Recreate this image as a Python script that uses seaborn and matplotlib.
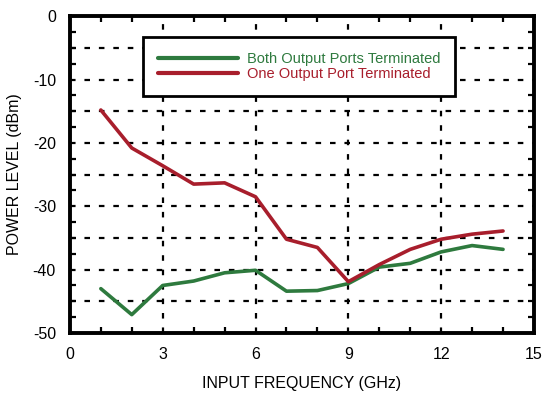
import numpy as np
import pandas as pd
import matplotlib
matplotlib.use("Agg")
import matplotlib.pyplot as plt
import seaborn as sns
from matplotlib.ticker import MultipleLocator

freq = [1, 2, 3, 4, 5, 6, 7, 8, 9, 10, 11, 12, 13, 14]
both_terminated = [-43.0, -47.1, -42.5, -41.8, -40.5, -40.1, -43.4, -43.3, -42.2, -39.6, -39.0, -37.2, -36.2, -36.8]
one_terminated = [-14.8, -20.8, -23.6, -26.5, -26.3, -28.5, -35.2, -36.5, -41.9, -39.2, -36.8, -35.2, -34.4, -33.9]
series_names = ["Both Output Ports Terminated", "One Output Port Terminated"]
colors = ["#2e7a3e", "#a81e2c"]

sns.set_theme(style="white")
plt.rcParams['font.family'] = ['Liberation Sans', 'DejaVu Sans']
plt.rcParams['axes.unicode_minus'] = False

df = pd.DataFrame({
    "freq": freq * 2,
    "level": both_terminated + one_terminated,
    "series": [series_names[0]] * len(freq) + [series_names[1]] * len(freq),
})

fig = plt.figure(figsize=(5.46, 3.93), dpi=100)
ax = fig.add_axes([0.128, 0.1527, 0.850, 0.806])

sns.lineplot(data=df, x="freq", y="level", hue="series", palette=colors,
             linewidth=2.6, ax=ax, legend=True)

ax.set_xlim(0, 15)
ax.set_ylim(-50, 0)
ax.xaxis.set_major_locator(MultipleLocator(3))
ax.xaxis.set_minor_locator(MultipleLocator(1))
ax.yaxis.set_major_locator(MultipleLocator(10))
ax.yaxis.set_minor_locator(MultipleLocator(2.5))

# dashed grid
for xv in [3, 6, 9, 12]:
    ax.axvline(xv, color="black", linestyle=(0, (2.5, 4)), linewidth=1.6, zorder=0)
for yv in [-5, -10, -15, -20, -25, -30, -35, -40, -45]:
    ax.axhline(yv, color="black", linestyle=(0, (2.5, 4)), linewidth=1.6, zorder=0)

ax.tick_params(axis="both", which="both", direction="in", top=True, right=True,
               bottom=True, left=True, color="black")
ax.tick_params(axis="both", which="major", length=0, labelsize=11.5, pad=10, labelcolor="black")
ax.tick_params(axis="both", which="minor", length=4, width=1.6)

for s in ax.spines.values():
    s.set_visible(True)
    s.set_color("black")
    s.set_linewidth(2.8)

ax.set_xlabel("INPUT FREQUENCY (GHz)", fontsize=11.5, color="black", labelpad=10)
ax.set_ylabel("POWER LEVEL (dBm)", fontsize=11.5, color="black", labelpad=8)

leg = ax.legend(loc="upper left", bbox_to_anchor=(0.142, 0.957), frameon=True,
                fontsize=10.5, handlelength=5.5, handletextpad=0.6,
                borderpad=1.0, labelspacing=0.1, fancybox=False, framealpha=1)
leg.get_frame().set_edgecolor("black")
leg.get_frame().set_linewidth(2)
for txt, c in zip(leg.get_texts(), colors):
    txt.set_color(c)
for line in leg.get_lines():
    line.set_linewidth(3)

fig.savefig("out.png", dpi=100)
